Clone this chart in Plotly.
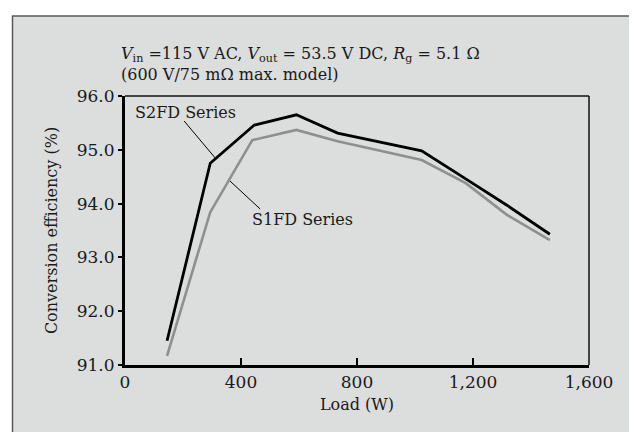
import plotly.graph_objects as go

load_s2 = [145, 294, 446, 591, 733, 1023, 1175, 1317, 1465]
eff_s2 = [91.45, 94.75, 95.46, 95.65, 95.31, 94.98, 94.46, 93.97, 93.43]
load_s1 = [145, 294, 439, 591, 733, 1023, 1175, 1317, 1465]
eff_s1 = [91.17, 93.84, 95.18, 95.37, 95.16, 94.81, 94.38, 93.79, 93.32]

x_ticks = [0, 400, 800, 1200, 1600]
x_tick_labels = ["0", "400", "800", "1,200", "1,600"]
y_ticks = [91, 92, 93, 94, 95, 96]
y_tick_labels = ["91.0", "92.0", "93.0", "94.0", "95.0", "96.0"]

title_text = ("<i>V</i><sub>in</sub> =115 V AC, <i>V</i><sub>out</sub> = 53.5 V DC, "
              "<i>R</i><sub>g</sub> = 5.1 Ω<br>(600 V/75 mΩ max. model)")
x_title = "Load (W)"
y_title = "Conversion efficiency (%)"

FONT = "'DejaVu Serif', 'Liberation Serif', serif"
BG = "#dcdddd"
TXT = "#1a1a1a"
W, H = 637, 432
L, R, T, B = 117, 56, 88, 75
pw, ph = W - L - R, H - T - B

def px(xp):
    return (xp - L) / pw

def py(yp):
    return (H - B - yp) / ph

fig = go.Figure()
fig.add_trace(go.Scatter(x=load_s1, y=eff_s1, mode="lines",
                         line=dict(color="#8f8f8f", width=2.6), showlegend=False))
fig.add_trace(go.Scatter(x=load_s2, y=eff_s2, mode="lines",
                         line=dict(color="#000000", width=2.8), showlegend=False))

shapes = [
    dict(type="rect", xref="paper", yref="paper", x0=px(4.5), x1=px(700), y0=py(8), y1=py(500),
         fillcolor=BG, line=dict(color="#5a5a5a", width=1.5), layer="below"),
    dict(type="line", xref="paper", yref="paper", x0=0, x1=1, y0=1, y1=1,
         line=dict(color="#111111", width=1.5)),
    dict(type="line", xref="paper", yref="paper", x0=1, x1=1, y0=0, y1=1,
         line=dict(color="#111111", width=1.5)),
    dict(type="line", xref="x", yref="y", x0=204, y0=95.535, x1=311, y1=94.848,
         line=dict(color="#000000", width=1)),
    dict(type="line", xref="x", yref="y", x0=466, y0=93.90, x1=362, y1=94.42,
         line=dict(color="#000000", width=1)),
]

annotations = [
    dict(text="S2FD Series", x=28, y=95.70, xref="x", yref="y", xanchor="left", yanchor="middle",
         showarrow=False, font=dict(family=FONT, size=16, color=TXT)),
    dict(text="S1FD Series", x=432, y=93.70, xref="x", yref="y", xanchor="left", yanchor="middle",
         showarrow=False, font=dict(family=FONT, size=16, color=TXT)),
]

fig.update_layout(
    width=W, height=H,
    margin=dict(l=L, r=R, t=T, b=B, pad=0),
    paper_bgcolor="#ffffff",
    plot_bgcolor="#ffffff",
    shapes=shapes,
    annotations=annotations,
    font=dict(family=FONT, size=16, color=TXT),
    title=dict(text=title_text, x=113 / W, xanchor="left", xref="container",
               y=1 - 51 / H, yanchor="middle", yref="container",
               font=dict(family=FONT, size=16, color=TXT)),
    xaxis=dict(range=[0, 1600], tickvals=x_ticks, ticktext=x_tick_labels,
               showgrid=False, zeroline=False, showline=True, linecolor="#000",
               linewidth=3, ticks="inside", ticklen=7, tickwidth=1.5, tickcolor="#000",
               tickfont=dict(family=FONT, size=17, color=TXT),
               title=dict(text=x_title, standoff=8, font=dict(family=FONT, size=16, color=TXT))),
    yaxis=dict(range=[91, 96], tickvals=y_ticks, ticktext=y_tick_labels,
               showgrid=False, zeroline=False, showline=True, linecolor="#000",
               linewidth=3, ticks="outside", ticklen=4, tickwidth=1.5, tickcolor="#000",
               tickfont=dict(family=FONT, size=17, color=TXT),
               title=dict(text=y_title, standoff=16, font=dict(family=FONT, size=16, color=TXT))),
)

fig.write_html("out.html")
